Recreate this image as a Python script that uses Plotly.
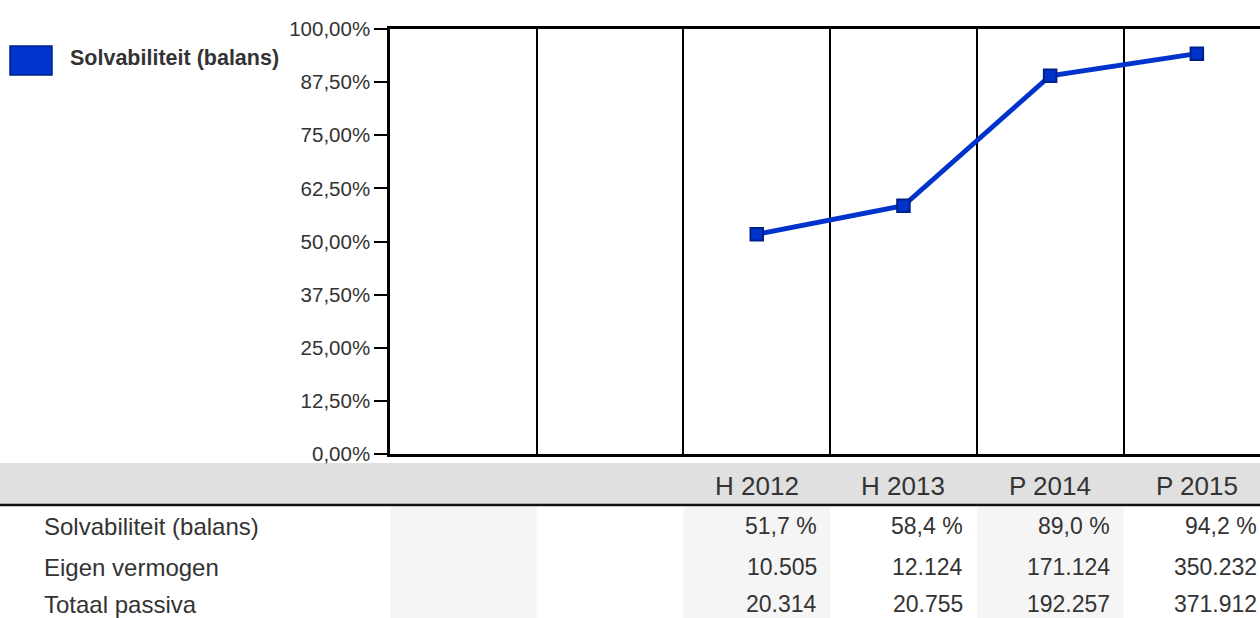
import plotly.graph_objects as go

# ---- data ----
categories = ["", "", "H 2012", "H 2013", "P 2014", "P 2015"]
series_name = "Solvabiliteit (balans)"
solvabiliteit = [None, None, 0.517, 0.584, 0.890, 0.942]
y_tickvals = [0, 0.125, 0.25, 0.375, 0.5, 0.625, 0.75, 0.875, 1.0]

row_labels = ["Solvabiliteit (balans)", "Eigen vermogen", "Totaal passiva"]
row_values = [
    ["", "", "51,7 %", "58,4 %", "89,0 %", "94,2 %"],
    ["", "", "10.505", "12.124", "171.124", "350.232"],
    ["", "", "20.314", "20.755", "192.257", "371.912"],
]

W, H = 1260, 618
FONT = "Liberation Sans, Arial, sans-serif"
TXT = "#333333"
BLUE = "#0033cc"
NAVY = "#002288"

def py(px):
    return 1 - px / H

x_left = 390
col_w = 146.7
x_max = -0.5 + (W - x_left) / col_w

fig = go.Figure()
xs = list(range(len(categories)))
fig.add_trace(go.Scatter(
    x=xs, y=solvabiliteit, mode="lines+markers", name=series_name,
    line=dict(color=BLUE, width=5),
    marker=dict(symbol="square", size=12.5, color=BLUE, line=dict(color=NAVY, width=2)),
    connectgaps=False, showlegend=False, cliponaxis=False,
))

shapes = []
# header band
shapes.append(dict(type="rect", xref="paper", yref="paper", x0=0, x1=1,
                   y0=py(505), y1=py(463), fillcolor="#e0e0e0", line_width=0, layer="below"))
shapes.append(dict(type="line", xref="paper", yref="paper", x0=0, x1=1,
                   y0=py(505), y1=py(505), line=dict(color="#111111", width=2.5)))
# shaded alternate columns in table body
for i in range(0, len(categories), 2):
    shapes.append(dict(type="rect", xref="x", yref="paper", x0=i - 0.5, x1=i + 0.5,
                       y0=0, y1=py(507), fillcolor="#f5f5f5", line_width=0, layer="below"))
# legend swatch
shapes.append(dict(type="rect", xref="paper", yref="paper", x0=10 / W, x1=52 / W,
                   y0=py(75), y1=py(46), fillcolor=BLUE, line=dict(color=NAVY, width=1.5)))

annotations = [dict(xref="paper", yref="paper", x=68 / W, y=py(58), xanchor="left", yanchor="middle",
                    text="<b>" + series_name + "</b>", showarrow=False,
                    font=dict(family=FONT, size=21.5, color=TXT))]
for i, c in enumerate(categories):
    if c:
        annotations.append(dict(xref="x", yref="paper", x=i, y=py(486), xanchor="center",
                                yanchor="middle", text=c, showarrow=False,
                                font=dict(family=FONT, size=26, color=TXT)))
row_y = [526, 567, 604]
val_shift = col_w / 2 - 11.5
for r, (lab, vals) in enumerate(zip(row_labels, row_values)):
    annotations.append(dict(xref="paper", yref="paper", x=42 / W, y=py(row_y[r]), xanchor="left",
                            yanchor="middle", text=lab, showarrow=False,
                            font=dict(family=FONT, size=24, color=TXT)))
    for i, v in enumerate(vals):
        if v:
            annotations.append(dict(xref="x", yref="paper", x=i, xshift=val_shift, y=py(row_y[r]),
                                    xanchor="right", yanchor="middle", text=v,
                                    showarrow=False, font=dict(family=FONT, size=23, color=TXT)))

fig.update_layout(
    template="none",
    width=W, height=H, autosize=False,
    margin=dict(l=0, r=0, t=0, b=0, pad=0),
    paper_bgcolor="white", plot_bgcolor="white",
    separators=",.",
    showlegend=False,
    shapes=shapes, annotations=annotations,
    xaxis=dict(domain=[x_left / W, 1], range=[-0.5, x_max], automargin=False,
               tickvals=[i + 0.5 for i in range(len(categories) - 1)],
               showticklabels=False, ticks="", showgrid=True, gridcolor="#000000", gridwidth=2,
               showline=True, linecolor="#000000", linewidth=2.5, mirror=True, zeroline=False,
               fixedrange=True),
    yaxis=dict(domain=[py(454), py(29)], range=[0, 1], tickvals=y_tickvals, tickformat=".2%",
               automargin=False,
               ticks="outside", ticklen=13, tickwidth=2, tickcolor="#000000",
               showgrid=False, zeroline=False, showline=True, linecolor="#000000", linewidth=2.5,
               tickfont=dict(family=FONT, size=20.5, color=TXT), fixedrange=True),
)

fig.write_html("out.html", config={"displayModeBar": False},
               post_script="document.body.style.margin='0';document.body.style.overflow='hidden';")
